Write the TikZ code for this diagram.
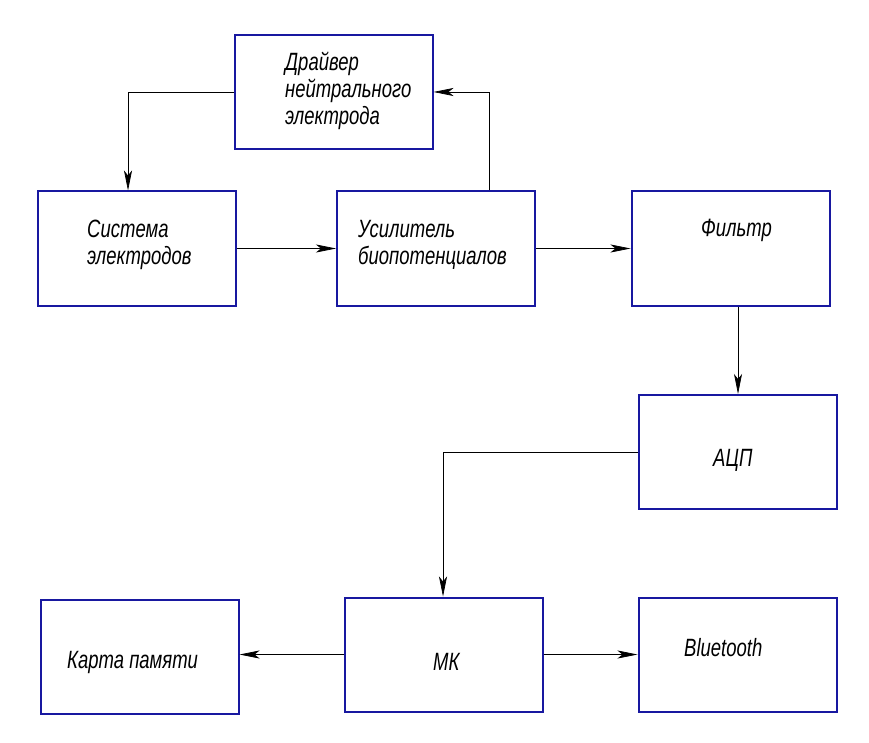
\documentclass[tikz,border=0pt]{standalone}
\usepackage{fontspec}
\newfontfamily\gost[FakeStretch=0.74]{Liberation Sans}
\usetikzlibrary{arrows.meta,positioning}
\definecolor{ramka}{RGB}{24,24,160}

\begin{document}
\begin{tikzpicture}[x=1pt, y=-1pt,
            blok/.style={draw=ramka, line width=2pt, minimum width=198pt, minimum height=114pt, inner sep=0pt},
            nadpis/.style={font=\gost\itshape\fontsize{25}{27}\selectfont, align=left, anchor=west, inner sep=0pt},
            svyaz/.style={-{Stealth[length=20pt,width=8pt,inset=5pt]}, line width=0.7pt}]
            \useasboundingbox (0,0) rectangle (869,743);
            % bloki
            \node[blok] (drv)   at (333.5,92)  {};
            \node[blok] (sys)   at (137,248.5) {};
            \node[blok] (usil)  at (436,248.5) {};
            \node[blok] (filt)  at (730.5,248.5) {};
            \node[blok] (acp)   at (738,452)   {};
            \node[blok] (mk)    at (443.5,654.5) {};
            \node[blok] (karta) at (139.5,657) {};
            \node[blok] (bt)    at (737.5,654.5) {};
            % nadpisi
            \node[nadpis] (tdrv)   at (285,91)  {Драйвер\\нейтрального\\электрода};
            \node[nadpis] (tsys)   at (87,245)  {Система\\электродов};
            \node[nadpis] (tusil)  at (358,245) {Усилитель\\биопотенциалов};
            \node[nadpis] (tfilt)  at (701,230) {Фильтр};
            \node[nadpis] (tacp)   at (713,460) {АЦП};
            \node[nadpis] (tmk)    at (433,662) {МК};
            \node[nadpis] (tkarta) at (67,662)  {Карта памяти};
            \node[nadpis] (tbt)    at (684,648) {Bluetooth};
            % svyazi
            \draw[svyaz] (drv.west) -| (sys.north -| 128,0);
            \draw[svyaz] (usil.north -| 489,0) |- (drv.east);
            \draw[svyaz] (sys.east) -- (usil.west);
            \draw[svyaz] (usil.east) -- (filt.west);
            \draw[svyaz] (filt.south -| 738,0) -- (acp.north -| 738,0);
            \draw[svyaz] (acp.west) -| (mk.north -| 443,0);
            \draw[svyaz] (mk.west) -- (karta.east |- mk.west);
            \draw[svyaz] (mk.east) -- (bt.west);
\end{tikzpicture}
\end{document}
